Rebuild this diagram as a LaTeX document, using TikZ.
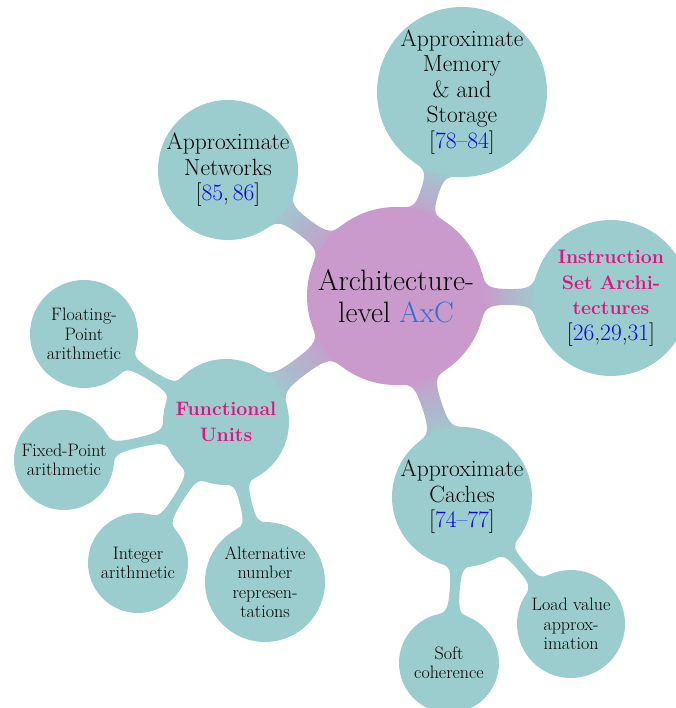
\documentclass[tikz,border=0pt]{standalone}
\usetikzlibrary{calc,backgrounds}

\definecolor{pinkc}{HTML}{C99ACB}
\definecolor{tealc}{HTML}{9BCDCE}
\definecolor{citeblue}{HTML}{0808D8}
\definecolor{axcblue}{HTML}{2F6FD0}
\definecolor{hotpink}{HTML}{E3127F}

\newcommand\cit[1]{\textcolor{citeblue}{#1}}
\newcommand\hot[1]{{\fontsize{19.5}{25}\selectfont\bfseries\color{hotpink}#1}}

% Gooey bar between two circular nodes.
% #1 first node, #2 its radius, #3 second node, #4 its radius,
% #5 half width at the waist, #6 half width where it meets the circles, #7 paint
\newcommand\bridge[7]{%
  \pgfpointdiff{\pgfpointanchor{#1}{center}}{\pgfpointanchor{#3}{center}}%
  \pgfgetlastxy\cbx\cby
  \pgfmathsetmacro\cbphi{atan2(\cby,\cbx)}%
  \pgfmathsetmacro\cbd{veclen(\cbx,\cby)}%
  \pgfmathsetmacro\cbaa{asin(#6/#2)}%
  \pgfmathsetmacro\cbab{asin(#6/#4)}%
  \pgfmathsetmacro\cbs{(#2+\cbd-#4)/2}%
  \pgfmathsetmacro\cbka{0.8*(#6-#5)}%
  \pgfmathsetmacro\cbkb{0.8*(\cbs-#2*cos(\cbaa))}%
  \pgfmathsetmacro\cbkc{0.8*((\cbd-#4*cos(\cbab))-\cbs)}%
  \pgfmathsetmacro\cbsh{\cbphi-90}%
  \path[#7] ($(#1)+(\cbphi+\cbaa:#2)$)
    .. controls +(\cbphi+\cbaa-90:\cbka) and +(\cbphi+180:\cbkb) .. ($(#1)+(\cbphi:\cbs)+(\cbphi+90:#5)$)
    .. controls +(\cbphi:\cbkc) and +(\cbphi+270-\cbab:\cbka) .. ($(#3)+(\cbphi+180-\cbab:#4)$)
    -- ($(#3)+(\cbphi+180+\cbab:#4)$)
    .. controls +(\cbphi+90+\cbab:\cbka) and +(\cbphi:\cbkc) .. ($(#1)+(\cbphi:\cbs)+(\cbphi-90:#5)$)
    .. controls +(\cbphi+180:\cbkb) and +(\cbphi-\cbaa+90:\cbka) .. ($(#1)+(\cbphi-\cbaa:#2)$)
    -- cycle;
}

\tikzset{
  bubble/.style={circle, inner sep=0pt, outer sep=0pt},
  rootc/.style={bubble, fill=pinkc},
  topicc/.style={bubble, fill=tealc},
  label base/.style={align=center, inner sep=0pt, text=black},
  rtext/.style={label base, font=\fontsize{29.5}{32}\selectfont},
  ttext/.style={label base, font=\fontsize{23.5}{25.5}\selectfont},
  ltext/.style={label base, font=\fontsize{18}{19.5}\selectfont},
  rootbar/.style={top color=tealc, bottom color=pinkc, shading angle=\cbsh},
  leafbar/.style={fill=tealc},
}

\begin{document}
\begin{tikzpicture}[x=1pt, y=1pt]
\useasboundingbox (0,0) rectangle (675,708);

% circles
\node[rootc,  minimum size=178pt] (root)  at (396,412) {};
\node[topicc, minimum size=140pt] (net)   at (228,538) {};
\node[topicc, minimum size=170pt] (mem)   at (462,616) {};
\node[topicc, minimum size=156pt] (isa)   at (611,410) {};
\node[topicc, minimum size=140pt] (cache) at (462,211) {};
\node[topicc, minimum size=126pt] (fu)    at (226,286) {};
\node[topicc, minimum size=108pt] (float) at (84,374)  {};
\node[topicc, minimum size=100pt] (fixed) at (64,248)  {};
\node[topicc, minimum size=100pt] (int)   at (138,145) {};
\node[topicc, minimum size=120pt] (alt)   at (265,126) {};
\node[topicc, minimum size=100pt] (soft)  at (449,45)  {};
\node[topicc, minimum size=108pt] (load)  at (571,84)  {};

% bars behind the circles
\begin{scope}[on background layer]
  \bridge{root}{89}{net}{70}{9}{24}{rootbar}
  \bridge{root}{89}{mem}{85}{9}{24}{rootbar}
  \bridge{root}{89}{isa}{78}{8}{24}{rootbar}
  \bridge{root}{89}{cache}{70}{10}{24}{rootbar}
  \bridge{root}{89}{fu}{63}{9}{24}{rootbar}
  \bridge{fu}{63}{float}{54}{5}{15}{leafbar}
  \bridge{fu}{63}{fixed}{50}{5}{15}{leafbar}
  \bridge{fu}{63}{int}{50}{5}{15}{leafbar}
  \bridge{fu}{63}{alt}{60}{6}{15}{leafbar}
  \bridge{cache}{70}{soft}{50}{5}{15}{leafbar}
  \bridge{cache}{70}{load}{54}{5}{15}{leafbar}
\end{scope}

% texts
\node[rtext] (root-t) at (root) {Architecture-\\level \textcolor{axcblue}{AxC}};
\node[ttext] (net-t) at (net) {Approximate\\Networks\\{[}\cit{85},\,\cit{86}{]}};
\node[ttext] (mem-t) at (mem) {Approximate\\Memory\\\& and\\Storage\\{[}\cit{78--84}{]}};
\node[ttext] (isa-t) at (isa) {\hot{Instruction}\\\hot{Set Archi-}\\\hot{tectures}\\{[}\cit{26},\cit{29},\cit{31}{]}};
\node[ttext] (cache-t) at (cache) {Approximate\\Caches\\{[}\cit{74--77}{]}};
\node[ttext] (fu-t) at (fu) {\hot{Functional}\\\hot{Units}};
\node[ltext] (float-t) at (float) {Floating-\\Point\\arithmetic};
\node[ltext] (fixed-t) at (fixed) {Fixed-Point\\arithmetic};
\node[ltext] (int-t) at (int) {Integer\\arithmetic};
\node[ltext] (alt-t) at (alt) {Alternative\\number\\represen-\\tations};
\node[ltext] (soft-t) at (soft) {Soft\\coherence};
\node[ltext] (load-t) at (load) {Load value\\approx-\\imation};
\end{tikzpicture}
\end{document}
